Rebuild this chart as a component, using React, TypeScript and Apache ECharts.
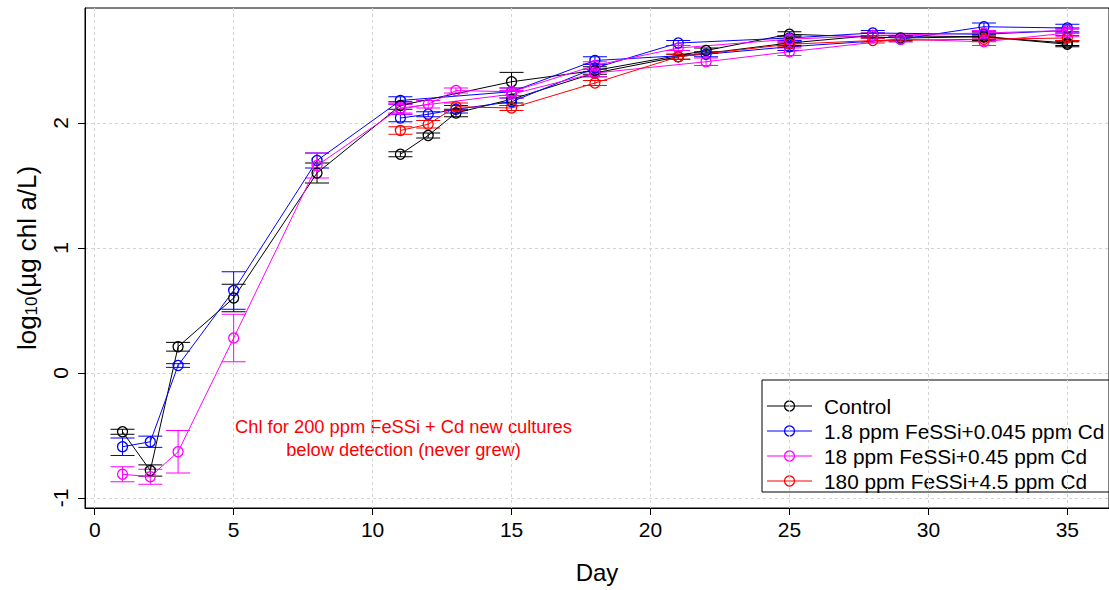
import React, { useEffect, useRef } from "react";
import * as echarts from "echarts";

const FONT = "'Liberation Sans', Arial, Helvetica, sans-serif";

const seriesNames = [
  "Control",
  "1.8 ppm FeSSi+0.045 ppm Cd",
  "18 ppm FeSSi+0.45 ppm Cd",
  "180 ppm FeSSi+4.5 ppm Cd",
];
const seriesColors = ["#000000", "#0000FF", "#FF00FF", "#FF0000"];

// original cultures
const oldDays = [1, 2, 3, 5, 8, 11, 15, 18, 22, 25, 29, 32, 35];
// new cultures started on day 11
const newDays = [11, 12, 13, 15, 18, 21, 25, 28, 32, 35];

const controlOld = [-0.47, -0.78, 0.21, 0.6, 1.6, 2.14, 2.33, 2.42, 2.58, 2.71, 2.68, 2.69, 2.63];
const controlOldErr = [0.02, 0.045, 0.035, 0.11, 0.08, 0.03, 0.075, 0.03, 0.02, 0.02, 0.02, 0.03, 0.02];
const controlNew = [1.75, 1.9, 2.08, 2.19, 2.4, 2.53, 2.64, 2.7, 2.69, 2.64];
const controlNewErr = [0.02, 0.02, 0.03, 0.03, 0.03, 0.02, 0.02, 0.02, 0.02, 0.02];

const blueOld = [-0.59, -0.55, 0.06, 0.66, 1.7, 2.18, 2.25, 2.5, 2.55, 2.61, 2.67, 2.77, 2.76];
const blueOldErr = [0.07, 0.045, 0.015, 0.15, 0.06, 0.03, 0.03, 0.03, 0.02, 0.03, 0.02, 0.03, 0.03];
const blueNew = [2.04, 2.07, 2.11, 2.17, 2.44, 2.64, 2.68, 2.72, 2.71, 2.74];
const blueNewErr = [0.03, 0.02, 0.03, 0.03, 0.03, 0.02, 0.02, 0.02, 0.02, 0.02];

const magentaOld = [-0.81, -0.83, -0.63, 0.28, 1.66, 2.12, 2.23, 2.4, 2.49, 2.57, 2.67, 2.65, 2.72];
const magentaOldErr = [0.06, 0.06, 0.17, 0.19, 0.1, 0.04, 0.03, 0.03, 0.03, 0.03, 0.02, 0.03, 0.03];
const magentaNew = [2.11, 2.15, 2.26, 2.25, 2.46, 2.6, 2.67, 2.7, 2.72, 2.74];
const magentaNewErr = [0.04, 0.03, 0.02, 0.03, 0.03, 0.02, 0.03, 0.02, 0.02, 0.02];

const redNew = [1.94, 1.99, 2.13, 2.12, 2.32, 2.53, 2.63, 2.66, 2.67, 2.68];
const redNewErr = [0.03, 0.03, 0.03, 0.02, 0.02, 0.02, 0.02, 0.02, 0.02, 0.02];

const xTicks = [0, 5, 10, 15, 20, 25, 30, 35];
const yTicks = [-1, 0, 1, 2];

const annotationLines = ["Chl for 200 ppm FeSSi + Cd new cultures", "below detection (never grew)"];

type Group = { idx: number; days: number[]; vals: number[]; errs: number[] };

const groups: Group[] = [
  { idx: 0, days: oldDays, vals: controlOld, errs: controlOldErr },
  { idx: 0, days: newDays, vals: controlNew, errs: controlNewErr },
  { idx: 1, days: oldDays, vals: blueOld, errs: blueOldErr },
  { idx: 1, days: newDays, vals: blueNew, errs: blueNewErr },
  { idx: 2, days: oldDays, vals: magentaOld, errs: magentaOldErr },
  { idx: 2, days: newDays, vals: magentaNew, errs: magentaNewErr },
  { idx: 3, days: newDays, vals: redNew, errs: redNewErr },
];

function buildOption() {
  const series: any[] = [];
  groups.forEach((g) => {
    const color = seriesColors[g.idx];
    series.push({
      type: "custom",
      name: seriesNames[g.idx],
      data: g.days.map((d, i) => [d, g.vals[i] - g.errs[i], g.vals[i] + g.errs[i]]),
      encode: { x: 0, y: [1, 2] },
      silent: true,
      renderItem: (params: any, api: any) => {
        const x = api.value(0);
        const pHi = api.coord([x, api.value(2)]);
        const pLo = api.coord([x, api.value(1)]);
        const w = 12;
        const style = { stroke: color, lineWidth: 1 };
        return {
          type: "group",
          children: [
            { type: "line", shape: { x1: pHi[0], y1: pHi[1], x2: pLo[0], y2: pLo[1] }, style },
            { type: "line", shape: { x1: pHi[0] - w, y1: pHi[1], x2: pHi[0] + w, y2: pHi[1] }, style },
            { type: "line", shape: { x1: pLo[0] - w, y1: pLo[1], x2: pLo[0] + w, y2: pLo[1] }, style },
          ],
        };
      },
    });
    series.push({
      type: "line",
      name: seriesNames[g.idx],
      data: g.days.map((d, i) => [d, g.vals[i]]),
      symbol: "circle",
      symbolSize: 10,
      showAllSymbol: true,
      lineStyle: { color, width: 1 },
      itemStyle: { color: "rgba(0,0,0,0)", borderColor: color, borderWidth: 1.3 },
      emphasis: { disabled: true },
      silent: true,
    });
  });

  const graphics: any[] = [
    {
      type: "rect",
      shape: { x: 762, y: 380, width: 400, height: 112 },
      style: { fill: "none", stroke: "#000", lineWidth: 1 },
    },
  ];
  const legendY = [406, 431, 456, 481];
  seriesNames.forEach((n, i) => {
    graphics.push({
      type: "line",
      shape: { x1: 767, y1: legendY[i], x2: 812, y2: legendY[i] },
      style: { stroke: seriesColors[i], lineWidth: 1 },
    });
    graphics.push({
      type: "circle",
      shape: { cx: 789.5, cy: legendY[i], r: 5 },
      style: { fill: "none", stroke: seriesColors[i], lineWidth: 1.3 },
    });
    graphics.push({
      type: "text",
      x: 824,
      y: legendY[i],
      style: { text: n, fill: "#000", font: `20.8px ${FONT}`, textAlign: "left", textVerticalAlign: "middle" },
    });
  });

  annotationLines.forEach((t, i) => {
    graphics.push({
      type: "text",
      x: 403.5,
      y: 426 + i * 23,
      style: { text: t, fill: "#FF0000", font: `18.3px ${FONT}`, textAlign: "center", textVerticalAlign: "middle" },
    });
  });

  return {
    animation: false,
    backgroundColor: "#ffffff",
    grid: {
      left: 85,
      top: 8,
      width: 1033,
      height: 500,
      show: true,
      borderColor: "#000",
      borderWidth: 1,
      backgroundColor: "transparent",
    },
    xAxis: {
      type: "value",
      min: -0.35,
      max: 36.5,
      name: "Day",
      nameLocation: "middle",
      nameGap: 52,
      nameTextStyle: { color: "#000", fontSize: 24, fontFamily: FONT },
      axisLine: { show: true, onZero: false, lineStyle: { color: "#000", width: 1 } },
      axisTick: { show: true, inside: false, length: 7, customValues: xTicks, lineStyle: { color: "#000" } },
      axisLabel: { customValues: xTicks, color: "#000", fontSize: 21, fontFamily: FONT, margin: 11 },
      splitLine: { show: true, lineStyle: { color: "#d3d3d3", type: [3, 3], width: 1 } },
    },
    yAxis: {
      type: "value",
      min: -1.08,
      max: 2.92,
      name: "{a|log}{s|10}{a|(µg chl a/L)}",
      nameLocation: "middle",
      nameRotate: 90,
      nameGap: 45,
      nameTextStyle: {
        color: "#000",
        fontSize: 26,
        fontFamily: FONT,
        rich: {
          a: { fontSize: 26, fontFamily: FONT, color: "#000" },
          s: { fontSize: 17, fontFamily: FONT, color: "#000", padding: [10, 0, 0, 0] },
        },
      },
      axisLine: { show: true, onZero: false, lineStyle: { color: "#000", width: 1 } },
      axisTick: { show: true, inside: false, length: 7, customValues: yTicks, lineStyle: { color: "#000" } },
      axisLabel: { customValues: yTicks, color: "#000", fontSize: 21, fontFamily: FONT, margin: 14, rotate: 90 },
      splitLine: { show: true, lineStyle: { color: "#d3d3d3", type: [3, 3], width: 1 } },
    },
    graphic: { elements: graphics },
    series,
  };
}

export default function App() {
  const ref = useRef<HTMLDivElement>(null);
  useEffect(() => {
    if (!ref.current) return;
    const chart = echarts.init(ref.current, undefined, { renderer: "svg" });
    chart.setOption(buildOption() as any);
    return () => chart.dispose();
  }, []);
  return (
    <div
      ref={ref}
      style={{ position: "absolute", left: 0, top: 0, width: 1109, height: 590, background: "#fff" }}
    />
  );
}
